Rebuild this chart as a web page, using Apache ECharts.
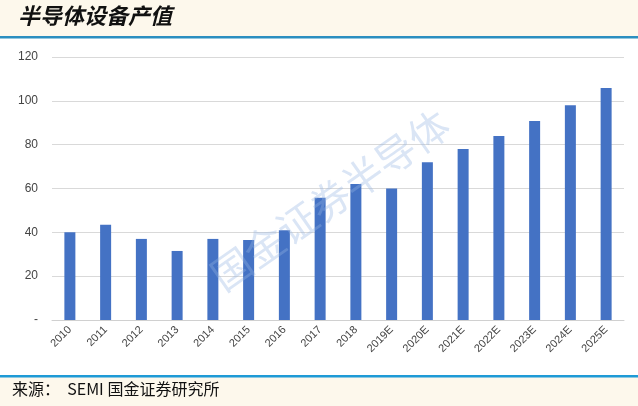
<!DOCTYPE html><html><head><meta charset="utf-8"><script src="https://cdn.jsdelivr.net/npm/echarts@6/dist/echarts.min.js"></script>
<style>body{margin:0}#c{width:638px;height:406px}</style></head><body><div id="c"></div><script>
const categories=['2010','2011','2012','2013','2014','2015','2016','2017','2018','2019E','2020E','2021E','2022E','2023E','2024E','2025E'];
const values=[40,43.5,37,31.5,37,36.5,41,55.8,62,60,72,78,84,90.8,98,105.8];
const title='半导体设备产值';
const source='来源：  SEMI 国金证券研究所';
const c=echarts.init(document.getElementById('c'));
c.setOption({animation:false,backgroundColor:'#fff',
graphic:[
{type:'rect',shape:{x:0,y:0,width:638,height:36},style:{fill:'#fdf8ec'},z:-1},
{type:'rect',shape:{x:0,y:36,width:638,height:2.5},style:{fill:'#2b8fc0'}},
{type:'rect',shape:{x:0,y:377,width:638,height:29},style:{fill:'#fdf8ec'},z:-1},
{type:'rect',shape:{x:0,y:375,width:638,height:2.5},style:{fill:'#1e9ad6'}},
{type:'text',left:18,top:5,style:{text:title,font:'italic bold 22px "Noto Sans CJK SC"',fill:'#111'}},
{type:'text',left:12,top:381,style:{text:source,font:'16px "Noto Sans CJK SC"',fill:'#111'}},
{type:'text',x:330,y:200,rotation:Math.PI/180*35,style:{text:'国金证券半导体',font:'40px "Noto Sans CJK SC"',fill:'rgba(150,180,225,0.35)',align:'center',verticalAlign:'middle'},z:10}
],
grid:{left:52,right:14,top:57,bottom:86},
xAxis:{type:'category',data:categories,axisTick:{show:false},axisLine:{lineStyle:{color:'#d0d0d0'}},axisLabel:{rotate:45,color:'#444',fontSize:11,fontFamily:'Liberation Sans',margin:8}},
yAxis:{type:'value',min:0,max:120,interval:20,axisLabel:{color:'#444',fontSize:12,fontFamily:'Liberation Sans',margin:14,formatter:v=>v===0?'-':v},splitLine:{lineStyle:{color:'#d9d9d9'}}},
series:[{type:'bar',data:values,barWidth:11,itemStyle:{color:'#4472c4'}}]});
</script></body></html>
